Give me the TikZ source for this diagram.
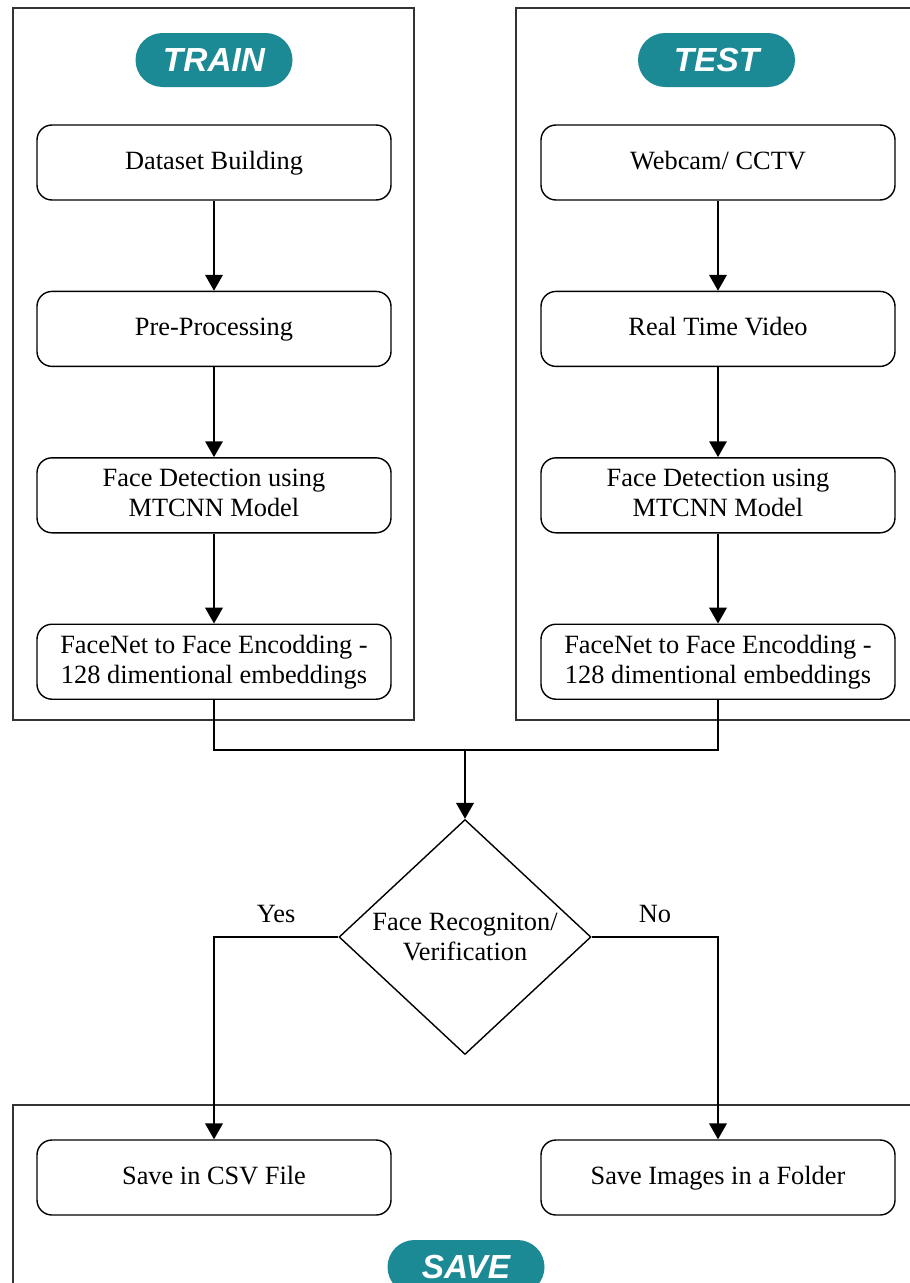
\documentclass[tikz,border=0pt]{standalone}
\usepackage{fontspec}
\setmainfont{Liberation Serif}
\newfontfamily\pillfont{Liberation Sans}
\usetikzlibrary{arrows.meta}
\usetikzlibrary{shapes.geometric, positioning}
\definecolor{pillteal}{RGB}{28, 138, 148}

\begin{document}
\begin{tikzpicture}[
        node distance=1.8cm and 2cm,
        box/.style={draw, rounded corners=0.3cm, line width=0.8pt, minimum width=7.08cm, minimum height=1.5cm, align=center, text depth=0.25em, font=\fontsize{15}{17}\selectfont},
        pill/.style={fill=pillteal, rounded corners=0.54cm, minimum width=3.14cm, minimum height=1.08cm, text=white, font=\pillfont\bfseries\itshape\fontsize{19}{22}\selectfont},
        frame/.style={draw=black!80, line width=1pt},
        arrow/.style={-{Triangle[length=9pt, width=10pt]}, line width=0.8pt},
        line/.style={line width=0.8pt}
    ]
        \useasboundingbox (0,0) rectangle (18.18,-25.66);

        % --- Frames ---
        \draw[frame] (0.26,-0.16) rectangle (8.28,-14.4);
        \draw[frame] (10.32,-0.16) rectangle (18.6,-14.4);
        \draw[frame] (18.6,-22.1) -- (0.26,-22.1) -- (0.26,-26);

        % --- TRAIN ---
        \node[pill] (trainpill) at (4.28,-1.2) {TRAIN};
        \node[box] (dataset) at (4.28,-3.25) {Dataset Building};
        \node[box, below=of dataset] (preproc) {Pre-Processing};
        \node[box, below=of preproc] (trdetect) {Face Detection using\\MTCNN Model};
        \node[box, below=of trdetect] (trencode) {FaceNet to Face Encodding -\\128 dimentional embeddings};
        \draw[arrow] (dataset) -- (preproc);
        \draw[arrow] (preproc) -- (trdetect);
        \draw[arrow] (trdetect) -- (trencode);

        % --- TEST ---
        \node[pill] (testpill) at (14.33,-1.2) {TEST};
        \node[box] (webcam) at (14.36,-3.25) {Webcam/ CCTV};
        \node[box, below=of webcam] (video) {Real Time Video};
        \node[box, below=of video] (tsdetect) {Face Detection using\\MTCNN Model};
        \node[box, below=of tsdetect] (tsencode) {FaceNet to Face Encodding -\\128 dimentional embeddings};
        \draw[arrow] (webcam) -- (video);
        \draw[arrow] (video) -- (tsdetect);
        \draw[arrow] (tsdetect) -- (tsencode);

        % --- Decision ---
        \coordinate (merge) at (9.3,-15.0);
        \node[draw, diamond, line width=0.8pt, inner sep=0pt, minimum width=5.04cm, minimum height=4.7cm, align=center, font=\fontsize{15}{17}\selectfont] (decide) at (9.3,-18.74) {Face Recogniton/\\Verification};
        \draw[line] (trencode.south) |- (merge);
        \draw[line] (tsencode.south) |- (merge);
        \draw[arrow] (merge) -- (decide.north);

        % --- SAVE ---
        \node[box] (csv) at (4.28,-23.55) {Save in CSV File};
        \node[box] (folder) at (14.36,-23.55) {Save Images in a Folder};
        \node[pill] (savepill) at (9.32,-25.34) {SAVE};
        \draw[arrow] (decide.west) -| node[pos=0.25, above=0.15cm, font=\fontsize{15}{17}\selectfont] {Yes} (csv.north);
        \draw[arrow] (decide.east) -| node[pos=0.25, above=0.15cm, font=\fontsize{15}{17}\selectfont] {No} (folder.north);
    \end{tikzpicture}
\end{document}
